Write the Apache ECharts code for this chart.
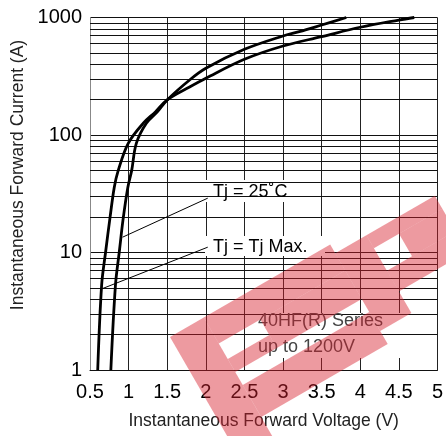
<!DOCTYPE html>
<html>
<head>
<meta charset="utf-8">
<script src="https://cdn.jsdelivr.net/npm/echarts@6/dist/echarts.min.js"></script>
<style>
html,body{margin:0;padding:0;background:#fff;}
#c{width:446px;height:436px;}
</style>
</head>
<body>
<div id="c"></div>
<script>
// ---- data ----
var tj25V = [0.77, 0.83, 0.88, 0.93, 0.99, 1.04, 1.10, 1.23, 1.375, 1.50, 1.79, 2.0, 2.5, 3.0, 3.21, 3.5, 3.82];
var tj25I = [1.0, 5.3, 10.2, 19.5, 35.8, 50, 85, 126, 158, 199, 294, 370, 536, 696, 757, 863, 1000];
var tjMaxV = [0.60, 0.651, 0.703, 0.758, 0.814, 0.866, 0.995, 1.19, 1.35, 1.50, 1.79, 2.0, 2.5, 3.0, 3.5, 4.0, 4.5, 4.7];
var tjMaxI = [1.0, 5.3, 10.2, 19.5, 35.8, 50, 85, 126, 158, 199, 256, 304, 441, 572, 687, 826, 952, 1000];
var minorCurrents = [2,3,4,5,6,7,8,9,20,30,40,50,60,70,80,90,200,300,400,500,600,700,800,900];
var leader25 = [[0.922, 13.5], [2.025, 29]];
var leaderMax = [[0.651, 4.9], [2.025, 11.1]];
var xTitle = 'Instantaneous Forward Voltage (V)';
var yTitle = 'Instantaneous Forward Current (A)';
var label25 = 'Tj = 25\u02DAC';
var labelMax = 'Tj = Tj Max.';
var seriesNote = '40HF(R) Series\nup to 1200V';

function pairs(xs, ys){ return xs.map(function(v,i){ return [v, ys[i]]; }); }

var FONT = '"Liberation Sans", Arial, Helvetica, sans-serif';
var chart = echarts.init(document.getElementById('c'), null, {renderer:'canvas'});

// watermark pieces in a rotated local frame (u along band, v across)
var wm = [[0,0,39,140],[39,0,185,30],[87,30,185,63],[39,48,87,63],[39,78,185,115],
          [185,10,221,100],[221,10,300,25],[250,25,300,51],[221,51,300,75]];
var wmChildren = wm.map(function(r){
  return {type:'rect', shape:{x:r[0], y:r[1], width:r[2]-r[0], height:r[3]-r[1]},
          style:{fill:'rgba(215,30,45,0.45)'}, z:10, silent:true};
});

var option = {
  animation:false,
  backgroundColor:'#fff',
  grid:{left:90, right:8, top:17.5, bottom:66, containLabel:false},
  xAxis:{
    type:'value', min:0.5, max:5, interval:0.5,
    axisLine:{show:true, lineStyle:{color:'#111', width:1}},
    axisTick:{show:false},
    axisLabel:{fontSize:20, color:'#000', fontFamily:FONT, margin:12},
    splitLine:{show:true, lineStyle:{color:'#222', width:1}},
    name:xTitle, nameLocation:'middle', nameGap:42,
    nameTextStyle:{fontSize:17.5, color:'#222', fontFamily:FONT}
  },
  yAxis:{
    type:'log', logBase:10, min:1, max:1000,
    axisLine:{show:true, lineStyle:{color:'#888', width:1}},
    axisTick:{show:false},
    axisLabel:{fontSize:20, color:'#000', fontFamily:FONT, margin:8,
      formatter:function(v){ return String(Math.round(v)); }},
    splitLine:{show:true, lineStyle:{color:'#111', width:1}}
  },
  graphic:[
    {type:'text', x:18, y:175, rotation:Math.PI/2, z:20,
     style:{text:yTitle, font:'17.5px ' + FONT, fill:'#222', align:'center', verticalAlign:'middle'}},
    {type:'rect', shape:{x:205, y:180, width:97, height:22}, style:{fill:'#fff'}, z:3},
    {type:'rect', shape:{x:205, y:236, width:120, height:20}, style:{fill:'#fff'}, z:3},
    {type:'rect', shape:{x:250, y:313, width:158, height:45}, style:{fill:'#fff'}, z:3},
    {type:'text', x:213, y:192, z:8, style:{text:label25, font:'18px ' + FONT, fill:'#000', verticalAlign:'middle'}},
    {type:'text', x:213, y:247, z:8, style:{text:labelMax, font:'18px ' + FONT, fill:'#000', verticalAlign:'middle'}},
    {type:'text', x:258, y:334, z:8, style:{text:seriesNote, font:'18px ' + FONT, fill:'#444', verticalAlign:'middle', lineHeight:26}},
    {type:'group', x:170, y:337, rotation:Math.PI/6, z:10, silent:true, children:wmChildren}
  ],
  series:[
    {
      type:'line', data:[], z:1, silent:true,
      markLine:{silent:true, symbol:['none','none'], label:{show:false},
        lineStyle:{color:'#111', width:1, type:'solid'},
        data: minorCurrents.map(function(v){ return {yAxis:v}; })}
    },
    {
      name:'Tj = 25C', type:'line', data:pairs(tj25V, tj25I), smooth:0.35, showSymbol:false, z:5,
      lineStyle:{color:'#000', width:2.8}
    },
    {
      name:'Tj = Tj Max', type:'line', data:pairs(tjMaxV, tjMaxI), smooth:0.35, showSymbol:false, z:5,
      lineStyle:{color:'#000', width:2.8},
      markLine:{silent:true, symbol:['none','none'], label:{show:false},
        lineStyle:{color:'#000', width:1, type:'solid'},
        data:[
          [{coord:leader25[0]},{coord:leader25[1]}],
          [{coord:leaderMax[0]},{coord:leaderMax[1]}]
        ]}
    }
  ]
};
chart.setOption(option);
</script>
</body>
</html>
